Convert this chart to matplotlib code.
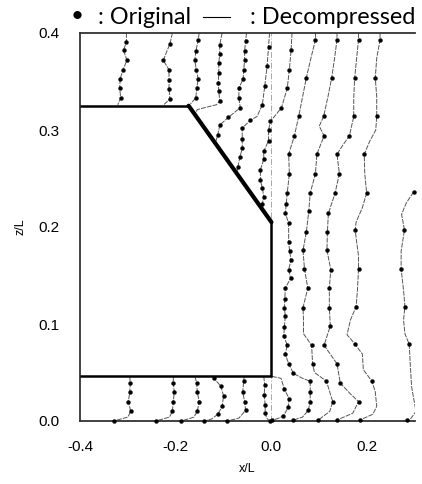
import matplotlib
matplotlib.use("Agg")
import matplotlib.pyplot as plt

W, H = 422, 484

# ---- body outline ----
body_x = [-0.4, -0.173, 0.0, 0.0, -0.4]
body_z = [0.325, 0.325, 0.205, 0.046, 0.046]

# ---- velocity profiles (x, z, dot flag) ----
A_x = [-0.303, -0.303, -0.309, -0.302, -0.310, -0.316, -0.317, -0.315, -0.321]
A_z = [0.400, 0.391, 0.382, 0.372, 0.362, 0.353, 0.343, 0.333, 0.326]
A_d = [0, 1, 1, 1, 1, 1, 1, 1, 0]

B_x = [-0.207, -0.212, -0.226, -0.214, -0.214, -0.214, -0.212, -0.225]
B_z = [0.400, 0.389, 0.372, 0.362, 0.352, 0.342, 0.332, 0.326]
B_d = [0, 1, 1, 1, 1, 1, 1, 0]

C_x = [-0.151, -0.153, -0.158, -0.160, -0.157, -0.153, -0.156, -0.158, -0.169]
C_z = [0.400, 0.393, 0.381, 0.372, 0.362, 0.353, 0.343, 0.333, 0.327]
C_d = [0, 1, 1, 1, 1, 1, 1, 1, 0]

D_x = [-0.103, -0.108, -0.108, -0.110, -0.110, -0.111, -0.110, -0.108, -0.115, -0.140, -0.155, -0.160]
D_z = [0.400, 0.388, 0.378, 0.369, 0.359, 0.348, 0.340, 0.330, 0.326, 0.323, 0.321, 0.316]
D_d = [0, 1, 1, 1, 1, 1, 1, 1, 0, 0, 0, 0]

E_x = [-0.052, -0.054, -0.056, -0.056, -0.058, -0.059, -0.068, -0.068, -0.065, -0.090, -0.108, -0.112, -0.117]
E_z = [0.400, 0.392, 0.381, 0.372, 0.362, 0.353, 0.343, 0.333, 0.323, 0.313, 0.305, 0.295, 0.287]
E_d = [0, 1, 1, 1, 1, 1, 1, 1, 1, 1, 1, 1, 0]

F_x = [-0.004, -0.006, -0.009, -0.014, -0.019, -0.030, -0.044, -0.061, -0.061, -0.061, -0.066, -0.070, -0.073]
F_z = [0.400, 0.386, 0.366, 0.345, 0.326, 0.314, 0.310, 0.302, 0.291, 0.281, 0.272, 0.262, 0.255]
F_d = [0, 1, 1, 1, 1, 0, 1, 1, 1, 1, 1, 1, 0]

G_x = [0.043, 0.041, 0.0375, 0.033, 0.021, 0.008, -0.002, -0.006, -0.006, -0.016, -0.016, -0.023, -0.023, -0.019, -0.016, -0.019, -0.018]
G_z = [0.400, 0.382, 0.362, 0.343, 0.323, 0.315, 0.309, 0.300, 0.289, 0.278, 0.270, 0.259, 0.248, 0.240, 0.231, 0.224, 0.218]
G_d = [0, 1, 1, 1, 1, 0, 1, 1, 1, 1, 1, 1, 1, 1, 1, 1, 0]

H_x = [0.092, 0.092, 0.083, 0.073, 0.065, 0.057, 0.048, 0.036, 0.0375, 0.033, 0.031, 0.029, 0.036, 0.036,
       0.038, 0.041, 0.036, 0.040, 0.029, 0.028, 0.027, 0.029, 0.027, 0.026, 0.033, 0.029, 0.036, 0.046,
       0.065, 0.081, 0.081, 0.081, 0.077, 0.065, 0.046]
H_z = [0.400, 0.393, 0.375, 0.354, 0.334, 0.314, 0.294, 0.275, 0.255, 0.235, 0.224, 0.214, 0.204, 0.185,
       0.175, 0.166, 0.156, 0.147, 0.137, 0.126, 0.117, 0.108, 0.097, 0.088, 0.078, 0.069, 0.059, 0.049,
       0.044, 0.041, 0.030, 0.020, 0.011, 0.004, 0.001]
H_d = [0, 1, 0, 1, 0, 1, 1, 1, 1, 1, 1, 1, 1, 1,
       1, 1, 1, 1, 1, 1, 1, 1, 1, 1, 1, 1, 1, 1,
       0, 1, 1, 1, 1, 0, 1]

I_x = [0.137, 0.137, 0.132, 0.126, 0.118, 0.109, 0.100, 0.110, 0.095, 0.092, 0.081, 0.078, 0.073,
       0.066, 0.069, 0.076, 0.066, 0.067, 0.067, 0.084, 0.086, 0.090, 0.115, 0.128, 0.122, 0.098]
I_z = [0.400, 0.393, 0.374, 0.354, 0.334, 0.314, 0.304, 0.294, 0.275, 0.255, 0.235, 0.216, 0.195,
       0.176, 0.157, 0.137, 0.117, 0.104, 0.090, 0.078, 0.059, 0.050, 0.041, 0.020, 0.010, 0.001]
I_d = [0, 1, 0, 1, 0, 1, 0, 1, 1, 1, 1, 1, 1,
       1, 1, 1, 1, 0, 0, 1, 1, 0, 1, 1, 0, 1]

J_x = [0.182, 0.182, 0.178, 0.174, 0.172, 0.172, 0.163, 0.150, 0.137, 0.142, 0.133, 0.119, 0.117,
       0.116, 0.124, 0.121, 0.121, 0.123, 0.110, 0.137, 0.144, 0.165, 0.182, 0.170, 0.137]
J_z = [0.400, 0.393, 0.374, 0.354, 0.334, 0.314, 0.294, 0.285, 0.275, 0.255, 0.235, 0.214, 0.195,
       0.176, 0.156, 0.137, 0.117, 0.098, 0.078, 0.059, 0.039, 0.028, 0.020, 0.008, 0.001]
J_d = [0, 1, 0, 1, 0, 1, 1, 0, 1, 1, 1, 1, 1,
       1, 1, 1, 1, 1, 1, 1, 1, 0, 1, 0, 1]

K_x = [0.227, 0.227, 0.220, 0.217, 0.220, 0.220, 0.218, 0.205, 0.194, 0.195, 0.199, 0.190, 0.177, 0.175,
       0.178, 0.182, 0.182, 0.180, 0.177, 0.165, 0.158, 0.175, 0.190, 0.192, 0.210, 0.217, 0.220, 0.212, 0.185]
K_z = [0.400, 0.393, 0.374, 0.354, 0.334, 0.314, 0.300, 0.288, 0.275, 0.255, 0.235, 0.220, 0.205, 0.197,
       0.185, 0.170, 0.157, 0.137, 0.118, 0.104, 0.089, 0.079, 0.069, 0.053, 0.041, 0.030, 0.015, 0.007, 0.001]
K_d = [0, 1, 0, 1, 0, 1, 0, 0, 1, 0, 1, 0, 0, 1,
       0, 0, 1, 0, 1, 0, 0, 1, 0, 0, 1, 0, 0, 0, 1]

L_x = [0.297, 0.282, 0.272, 0.278, 0.271, 0.271, 0.276, 0.279, 0.276, 0.279, 0.288, 0.290, 0.293, 0.302, 0.292, 0.284]
L_z = [0.236, 0.225, 0.213, 0.197, 0.175, 0.157, 0.135, 0.118, 0.104, 0.090, 0.079, 0.059, 0.035, 0.010, 0.003, 0.001]
L_d = [1, 0, 0, 1, 0, 1, 0, 1, 0, 0, 1, 0, 0, 0, 0, 1]

# profiles under the body
Ab_x = [-0.296, -0.295, -0.296, -0.299, -0.294, -0.300, -0.330]
Ab_z = [0.046, 0.039, 0.030, 0.020, 0.010, 0.004, 0.000]
Ab_d = [0, 1, 1, 1, 1, 0, 1]

Bb_x = [-0.205, -0.205, -0.203, -0.205, -0.207, -0.213, -0.242]
Bb_z = [0.046, 0.039, 0.030, 0.020, 0.010, 0.004, 0.000]
Bb_d = [0, 1, 1, 1, 1, 0, 1]

Cb_x = [-0.160, -0.156, -0.155, -0.151, -0.155, -0.162, -0.188]
Cb_z = [0.046, 0.039, 0.030, 0.020, 0.010, 0.004, 0.000]
Cb_d = [0, 1, 1, 1, 1, 0, 1]

Db_x = [-0.122, -0.120, -0.106, -0.100, -0.103, -0.112, -0.125, -0.141]
Db_z = [0.046, 0.044, 0.036, 0.026, 0.015, 0.007, 0.002, 0.000]
Db_d = [0, 1, 1, 1, 1, 1, 0, 1]

Eb_x = [-0.057, -0.058, -0.060, -0.056, -0.054, -0.068, -0.092]
Eb_z = [0.046, 0.041, 0.030, 0.020, 0.011, 0.003, 0.000]
Eb_d = [0, 1, 1, 1, 1, 0, 1]

Fb_x = [-0.016, -0.014, -0.015, -0.013, -0.013, -0.010, -0.004]
Fb_z = [0.046, 0.037, 0.027, 0.016, 0.008, 0.003, 0.000]
Fb_d = [0, 1, 1, 1, 1, 0, 1]

Gb_x = [0.001, 0.020, 0.027, 0.037, 0.035, 0.025, 0.010, 0.001]
Gb_z = [0.046, 0.044, 0.033, 0.023, 0.014, 0.005, 0.002, 0.001]
Gb_d = [0, 0, 1, 1, 1, 1, 0, 1]

profiles = [
    (A_x, A_z, A_d), (B_x, B_z, B_d), (C_x, C_z, C_d), (D_x, D_z, D_d),
    (E_x, E_z, E_d), (F_x, F_z, F_d), (G_x, G_z, G_d), (H_x, H_z, H_d),
    (I_x, I_z, I_d), (J_x, J_z, J_d), (K_x, K_z, K_d), (L_x, L_z, L_d),
    (Ab_x, Ab_z, Ab_d), (Bb_x, Bb_z, Bb_d), (Cb_x, Cb_z, Cb_d), (Db_x, Db_z, Db_d),
    (Eb_x, Eb_z, Eb_d), (Fb_x, Fb_z, Fb_d), (Gb_x, Gb_z, Gb_d),
]

x_ticks = [-0.4, -0.2, 0.0, 0.2]
x_ticklabels = ["-0.4", "-0.2", "0.0", "0.2"]
z_ticks = [0.0, 0.1, 0.2, 0.3, 0.4]
z_ticklabels = ["0.0", "0.1", "0.2", "0.3", "0.4"]

plt.rcParams["font.family"] = ["Liberation Sans", "DejaVu Sans"]

fig = plt.figure(figsize=(W / 100, H / 100), dpi=100)
ax = fig.add_axes([80 / W, 1 - 421 / H, 335 / W, 388 / H])
ax.set_xlim(-0.4, 0.3)
ax.set_ylim(0.0, 0.4)

# x = 0 reference line
ax.axvline(0.0, color="#a8a8a8", lw=0.7, ls=(0, (6, 2, 1, 2)), zorder=1)

for px, pz, pd in profiles:
    ax.plot(px, pz, color="#555555", lw=0.7, ls=(0, (5, 1.2)), zorder=2)
    dx = [v for v, f in zip(px, pd) if f]
    dz = [v for v, f in zip(pz, pd) if f]
    ax.plot(dx, dz, ls="none", marker="o", ms=2.8, mfc="black", mec="black",
            mew=0.3, zorder=3, clip_on=False)

# body: thin horizontal/vertical edges, thicker slanted edge
ax.plot(body_x[0:2], body_z[0:2], color="black", lw=1.8, solid_capstyle="butt", zorder=4, clip_on=False)
ax.plot(body_x[1:3], body_z[1:3], color="black", lw=3.0, solid_capstyle="round", zorder=4, clip_on=False)
ax.plot(body_x[2:5], body_z[2:5], color="black", lw=1.8, solid_capstyle="butt",
        solid_joinstyle="miter", zorder=4, clip_on=False)

for side in ["left", "top", "bottom"]:
    ax.spines[side].set_color("#333333")
    ax.spines[side].set_linewidth(1.3)
ax.spines["right"].set_visible(False)

ax.set_xticks(x_ticks)
ax.set_xticklabels(x_ticklabels)
ax.set_yticks(z_ticks)
ax.set_yticklabels(z_ticklabels)
ax.tick_params(length=0, labelsize=11, pad=15)
ax.tick_params(axis="x", pad=14)
ax.set_xlabel("x/L", fontsize=9, labelpad=6)
ax.set_ylabel("z/L", fontsize=9, labelpad=8)

# legend text at the top
lf = ["Lato", "DejaVu Sans"]
fig.text(77 / W, 1 - 16 / H, "•", fontsize=16, ha="center", va="center", family=lf)
fig.text(98 / W, 1 - 17 / H, ": Original", fontsize=16.8, ha="left", va="center", family=lf)
fig.add_artist(plt.Line2D([203 / W, 230 / W], [1 - 17 / H, 1 - 17 / H], color="black", lw=0.8))
fig.text(250 / W, 1 - 17 / H, ": Decompressed", fontsize=16.8, ha="left", va="center", family=lf)

fig.savefig("out.png", dpi=100)
